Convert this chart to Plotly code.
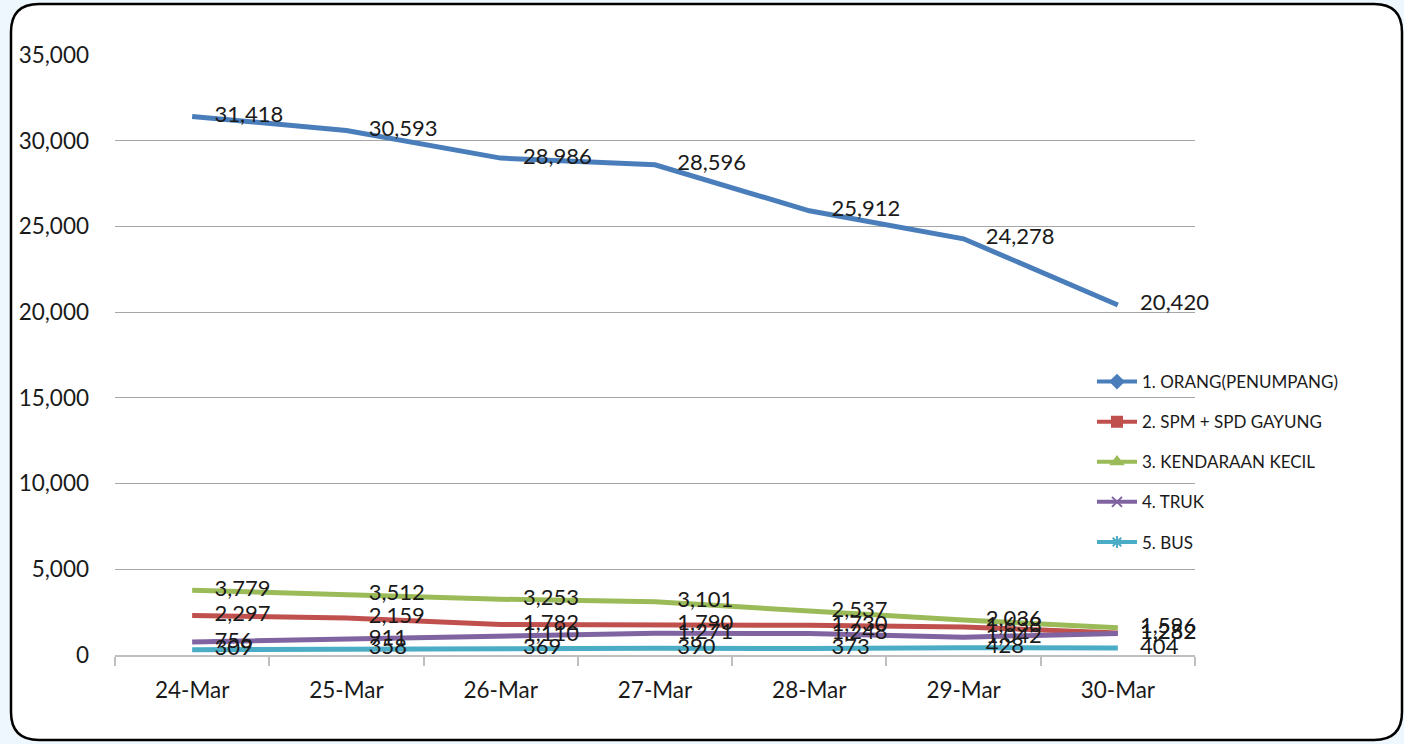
import plotly.graph_objects as go

dates = ["24-Mar", "25-Mar", "26-Mar", "27-Mar", "28-Mar", "29-Mar", "30-Mar"]
orang = [31418, 30593, 28986, 28596, 25912, 24278, 20420]
spm = [2297, 2159, 1782, 1790, 1730, 1638, 1282]
kendaraan = [3779, 3512, 3253, 3101, 2537, 2036, 1596]
truk = [756, 911, 1110, 1271, 1248, 1042, 1252]
bus = [309, 358, 369, 390, 373, 428, 404]

names = ["1. ORANG(PENUMPANG)", "2. SPM + SPD GAYUNG", "3. KENDARAAN KECIL", "4. TRUK", "5. BUS"]
series = [orang, spm, kendaraan, truk, bus]
colors = ["#4A7EBB", "#C0504D", "#9BBB59", "#8064A2", "#4BACC6"]
symbols = ["diamond", "square", "triangle-up", "x-thin", "asterisk-open"]

FONT = "Lato, 'Open Sans', sans-serif"

fig = go.Figure()

# lines
for name, vals, col in zip(names, series, colors):
    fig.add_trace(go.Scatter(x=dates, y=vals, mode="lines", name=name,
                             line=dict(color=col, width=5), showlegend=False,
                             hoverinfo="skip"))
# data labels on top
for name, vals in zip(names, series):
    fig.add_trace(go.Scatter(x=dates, y=vals, mode="markers+text",
                             text=[f"{v:,}" for v in vals],
                             textposition="middle right",
                             textfont=dict(family=FONT, size=22, color="#1a1a1a"),
                             marker=dict(size=34, color="rgba(0,0,0,0)"),
                             cliponaxis=False,
                             showlegend=False, hoverinfo="skip"))
# legend entries
for i, (name, col, sym) in enumerate(zip(names, colors, symbols)):
    mk = dict(symbol=sym, size=10, color=col, line=dict(color=col, width=2))
    fig.add_trace(go.Scatter(x=[None], y=[None], mode="lines+markers", name=name,
                             line=dict(color=col, width=4), marker=mk,
                             legendgroup=f"g{i}"))

L, T, W, H = 115, 55, 1080, 600


def X(px):
    return (px - L) / W


def Y(py):
    return (T + H - py) / H


x0, x1, y0, y1 = 11, 1402, 4, 740
r = 28
path = (f"M {X(x0 + r)},{Y(y0)} L {X(x1 - r)},{Y(y0)} Q {X(x1)},{Y(y0)} {X(x1)},{Y(y0 + r)} "
        f"L {X(x1)},{Y(y1 - r)} Q {X(x1)},{Y(y1)} {X(x1 - r)},{Y(y1)} "
        f"L {X(x0 + r)},{Y(y1)} Q {X(x0)},{Y(y1)} {X(x0)},{Y(y1 - r)} "
        f"L {X(x0)},{Y(y0 + r)} Q {X(x0)},{Y(y0)} {X(x0 + r)},{Y(y0)} Z")

fig.update_layout(
    width=1404, height=744,
    margin=dict(l=L, r=1404 - L - W, t=T, b=744 - T - H),
    paper_bgcolor="#EEF7FD",
    plot_bgcolor="rgba(0,0,0,0)",
    font=dict(family=FONT, size=22, color="#1a1a1a"),
    shapes=[dict(type="path", path=path, xref="paper", yref="paper", layer="below",
                 fillcolor="white", line=dict(color="black", width=2.5))],
    legend=dict(x=X(1092), y=Y(364), xanchor="left", yanchor="top",
                font=dict(family=FONT, size=17, color="#1a1a1a"),
                bgcolor="rgba(0,0,0,0)", tracegroupgap=15, itemwidth=40,
                traceorder="grouped"),
    showlegend=True,
)

fig.update_xaxes(type="category", range=[-0.5, 6.5], showgrid=False,
                 showline=True, linecolor="#BFBFBF", linewidth=2,
                 ticks="outside", tickson="boundaries", ticklen=9, tickcolor="#BFBFBF",
                 tickwidth=2, ticklabelstandoff=14,
                 tickfont=dict(family=FONT, size=22.5, color="#1a1a1a"))
fig.update_yaxes(range=[0, 35000], dtick=5000, tickformat=",", showgrid=True,
                 gridcolor="#A6A6A6", gridwidth=1, zeroline=False, showline=False,
                 ticks="", ticklabelstandoff=25,
                 tickfont=dict(family=FONT, size=22.5, color="#1a1a1a"))

fig.write_html("out.html", config={"displayModeBar": False},
               post_script="document.body.style.margin='0';document.body.style.background='#EEF7FD';")
